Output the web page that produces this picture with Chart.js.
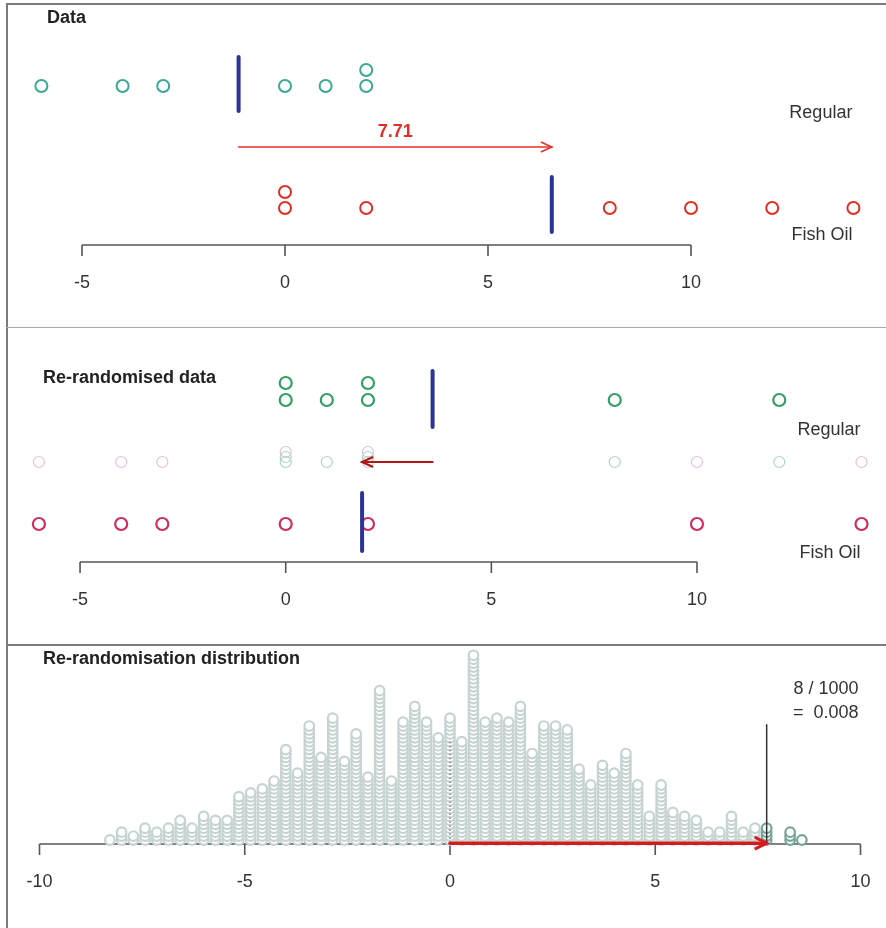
<!DOCTYPE html>
<html>
<head>
<meta charset="utf-8">
<script src="https://cdn.jsdelivr.net/npm/chart.js@4.4.1/dist/chart.umd.min.js"></script>
<style>
  body { margin: 0; background: #fff; }
  #wrap { position: relative; width: 886px; height: 928px; overflow: hidden; background: #fff; }
  canvas { position: absolute; left: 0; }
  .rule { position: absolute; background: #7c7c7c; }
</style>
</head>
<body>
<div id="wrap">
  <canvas id="c1" width="886" height="328" style="top:0px"></canvas>
  <canvas id="c2" width="886" height="316" style="top:329px"></canvas>
  <canvas id="c3" width="886" height="283" style="top:645px"></canvas>
  <div class="rule" style="left:6px;top:3px;width:2px;height:925px"></div>
  <div class="rule" style="left:6px;top:3px;width:880px;height:2px"></div>
  <div class="rule" style="left:6px;top:327px;width:880px;height:1px;background:#a8a8a8"></div>
  <div class="rule" style="left:6px;top:644px;width:880px;height:2px"></div>
</div>
<script>
// original data (omega-3 example)
const regularVals = [-6, -4, -3, 0, 1, 2, 2];
const fishOilVals = [0, 0, 2, 8, 10, 12, 14];

// one re-randomisation of the pooled values
const rerandRegular = [0, 0, 1, 2, 2, 8, 12];
const rerandFish = [-6, -4, -3, 0, 2, 10, 14];

// re-randomisation distribution: difference = numerator / 7, count of 1000
const diffNumerators = [-58, -56, -54, -52, -50, -48, -46, -44, -42, -40,
  -38, -36, -34, -32, -30, -28, -26, -24, -22, -20,
  -18, -16, -14, -12, -10, -8, -6, -4, -2, 0,
  2, 4, 6, 8, 10, 12, 14, 16, 18, 20,
  22, 24, 26, 28, 30, 32, 34, 36, 38, 40,
  42, 44, 46, 48, 50, 52, 54, 56, 58, 60];
const diffCounts = [1, 3, 2, 4, 3, 4, 6, 4, 7, 6,
  6, 12, 13, 14, 16, 24, 18, 30, 22, 32,
  21, 28, 17, 39, 16, 31, 35, 31, 27, 32,
  26, 48, 31, 32, 31, 35, 23, 30, 30, 29,
  19, 15, 20, 18, 23, 15, 7, 15, 8, 7,
  6, 3, 3, 7, 3, 4, 4, 0, 3, 1];

const ticksData = [-5, 0, 5, 10];
const ticksDist = [-10, -5, 0, 5, 10];

const FONT = '"Liberation Sans", Arial, sans-serif';
const NAVY = 'rgb(42,52,150)';

const mean = a => a.reduce((s, v) => s + v, 0) / a.length;

// repeated values are stacked upward
function stackRow(vals, level, step, seen) {
  seen = seen || {};
  return vals.map(v => {
    const k = seen[v] || 0;
    seen[v] = k + 1;
    return { x: v, y: level + k * step };
  });
}

function xLimits(v0, p0, pxPerUnit, width) {
  const min = v0 - p0 / pxPerUnit;
  return { min: min, max: min + width / pxPerUnit };
}
function yLimits(v0, p0, pxPerUnit, height) {
  const max = v0 + p0 / pxPerUnit;
  return { min: max - height / pxPerUnit, max: max };
}

function baseOptions(xl, yl) {
  return {
    responsive: false,
    animation: false,
    events: [],
    layout: { padding: 0, autoPadding: false },
    plugins: { legend: { display: false }, tooltip: { enabled: false } },
    scales: {
      x: { type: 'linear', display: false, min: xl.min, max: xl.max },
      y: { type: 'linear', display: false, min: yl.min, max: yl.max }
    }
  };
}

function pointSet(data, color, r, bw, fill, order) {
  return {
    data: data, showLine: false, order: order,
    pointStyle: 'circle', pointRadius: r, pointHoverRadius: r,
    pointBorderWidth: bw, borderColor: color, pointBorderColor: color,
    pointBackgroundColor: fill, backgroundColor: fill
  };
}

function segment(x0, y0, x1, y1, color, w, order, dash) {
  return {
    data: [{ x: x0, y: y0 }, { x: x1, y: y1 }], showLine: true, order: order,
    borderColor: color, borderWidth: w, pointRadius: 0, fill: false,
    borderCapStyle: dash ? 'butt' : 'round', borderDash: dash || []
  };
}

function arrowHead(ctx, xFrom, xTo, y, color, w, len, half) {
  const d = Math.sign(xTo - xFrom);
  ctx.save();
  ctx.strokeStyle = color;
  ctx.lineWidth = w;
  ctx.lineJoin = 'miter';
  ctx.beginPath();
  ctx.moveTo(xTo - d * len, y - half);
  ctx.lineTo(xTo, y);
  ctx.lineTo(xTo - d * len, y + half);
  ctx.stroke();
  ctx.restore();
}

function drawAxis(ctx, sx, y, ticks) {
  ctx.save();
  ctx.strokeStyle = '#555';
  ctx.lineWidth = 1.6;
  ctx.beginPath();
  ctx.moveTo(sx.getPixelForValue(ticks[0]), y);
  ctx.lineTo(sx.getPixelForValue(ticks[ticks.length - 1]), y);
  ticks.forEach(t => {
    const x = sx.getPixelForValue(t);
    ctx.moveTo(x, y);
    ctx.lineTo(x, y + 11);
  });
  ctx.stroke();
  ctx.fillStyle = '#333';
  ctx.font = '18px ' + FONT;
  ctx.textAlign = 'center';
  ctx.textBaseline = 'alphabetic';
  ticks.forEach(t => ctx.fillText(String(t), sx.getPixelForValue(t), y + 43));
  ctx.restore();
}

function text(ctx, str, x, y, align, font, color) {
  ctx.save();
  ctx.font = font;
  ctx.fillStyle = color;
  ctx.textAlign = align;
  ctx.textBaseline = 'alphabetic';
  ctx.fillText(str, x, y);
  ctx.restore();
}

// ---------- panel 1: Data ----------
const k1 = 122;
const mReg = mean(regularVals), mFish = mean(fishOilVals);
const obsDiff = mFish - mReg;
const opt1 = baseOptions(xLimits(0, 285, 40.6, 886), yLimits(2, 86, k1, 328));
new Chart(document.getElementById('c1'), {
  type: 'scatter',
  data: {
    datasets: [
      pointSet(stackRow(regularVals, 2, 16 / k1), 'rgb(58,168,152)', 6, 2, 'rgba(0,0,0,0)', 3),
      pointSet(stackRow(fishOilVals, 1, 16 / k1), 'rgb(226,46,36)', 6, 2, 'rgba(0,0,0,0)', 3),
      segment(mReg, 2 - 25 / k1, mReg, 2 + 29 / k1, NAVY, 4, 1),
      segment(mFish, 1 - 24 / k1, mFish, 1 + 31 / k1, NAVY, 4, 1),
      segment(mReg, 1.5, mFish, 1.5, 'rgb(230,50,38)', 1.6, 2)
    ]
  },
  options: opt1,
  plugins: [{
    id: 'overlay',
    afterDatasetsDraw(chart) {
      const ctx = chart.ctx, sx = chart.scales.x, sy = chart.scales.y;
      const ya = sy.getPixelForValue(1.5);
      arrowHead(ctx, sx.getPixelForValue(mReg), sx.getPixelForValue(mFish), ya, 'rgb(230,50,38)', 1.6, 11, 5);
      text(ctx, obsDiff.toFixed(2), sx.getPixelForValue((mReg + mFish) / 2), ya - 10,
        'center', 'bold 18px ' + FONT, 'rgb(226,46,36)');
      text(ctx, 'Regular', sx.getPixelForValue(14) - 1, sy.getPixelForValue(2) + 32, 'right', '18px ' + FONT, '#333');
      text(ctx, 'Fish Oil', sx.getPixelForValue(14) - 1, sy.getPixelForValue(1) + 32, 'right', '18px ' + FONT, '#333');
      text(ctx, 'Data', 47, 23, 'left', 'bold 18px ' + FONT, '#222');
      drawAxis(ctx, sx, sy.getPixelForValue(1) + 37, ticksData);
    }
  }]
});

// ---------- panel 2: Re-randomised data ----------
const k2 = 124;
const mReg2 = mean(rerandRegular), mFish2 = mean(rerandFish);
const pooledSeen = {};
const midReg = stackRow(rerandRegular, 1.5, 5 / k2, pooledSeen);
const midFish = stackRow(rerandFish, 1.5, 5 / k2, pooledSeen);
const opt2 = baseOptions(xLimits(0, 285.7, 41.13, 886), yLimits(2, 71, k2, 316));
new Chart(document.getElementById('c2'), {
  type: 'scatter',
  data: {
    datasets: [
      pointSet(stackRow(rerandRegular, 2, 17 / k2), 'rgb(48,160,98)', 6, 2.2, 'rgba(0,0,0,0)', 3),
      pointSet(stackRow(rerandFish, 1, 17 / k2), 'rgb(206,44,96)', 6, 2.2, 'rgba(0,0,0,0)', 3),
      pointSet(midReg, 'rgb(170,216,194)', 5.5, 1.2, 'rgba(0,0,0,0)', 4),
      pointSet(midFish, 'rgb(232,188,222)', 5.5, 1.2, 'rgba(0,0,0,0)', 4),
      segment(mReg2, 2 - 27 / k2, mReg2, 2 + 29 / k2, NAVY, 4, 1),
      segment(mFish2, 1 - 27 / k2, mFish2, 1 + 31 / k2, NAVY, 4, 1),
      segment(mReg2, 1.5, mFish2, 1.5, 'rgb(178,22,22)', 2.2, 2)
    ]
  },
  options: opt2,
  plugins: [{
    id: 'overlay',
    afterDatasetsDraw(chart) {
      const ctx = chart.ctx, sx = chart.scales.x, sy = chart.scales.y;
      arrowHead(ctx, sx.getPixelForValue(mReg2), sx.getPixelForValue(mFish2), sy.getPixelForValue(1.5),
        'rgb(178,22,22)', 2.2, 11, 5);
      text(ctx, 'Regular', sx.getPixelForValue(14) - 1, sy.getPixelForValue(2) + 35, 'right', '18px ' + FONT, '#333');
      text(ctx, 'Fish Oil', sx.getPixelForValue(14) - 1, sy.getPixelForValue(1) + 34, 'right', '18px ' + FONT, '#333');
      text(ctx, 'Re-randomised data', 43, 54, 'left', 'bold 18px ' + FONT, '#222');
      drawAxis(ctx, sx, sy.getPixelForValue(1) + 38, ticksData);
    }
  }]
});

// ---------- panel 3: Re-randomisation distribution ----------
const k3 = 3.93;
const diffValues = diffNumerators.map(n => n / 7);
const dots = [];
diffValues.forEach((v, i) => {
  for (let j = 0; j < diffCounts[i]; j++) dots.push({ x: v, y: j });
});
const total = diffCounts.reduce((s, c) => s + c, 0);
const tail = diffCounts.reduce((s, c, i) => s + (diffValues[i] >= obsDiff - 1e-9 ? c : 0), 0);
const opt3 = baseOptions(xLimits(0, 450, 41.05, 886), yLimits(0, 195, k3, 283));
const dotSet = pointSet(dots, 'rgb(198,211,211)', 4.8, 2.2, '#fff', 5);
dotSet.pointBorderColor = c => (c.raw && c.raw.x >= obsDiff - 1e-9) ? 'rgb(120,165,155)' : 'rgb(198,211,211)';
new Chart(document.getElementById('c3'), {
  type: 'scatter',
  data: {
    datasets: [
      dotSet,
      segment(0, 25, 0, -0.6, '#444', 1.2, 3, [1, 3]),
      segment(obsDiff, 29.3, obsDiff, -0.8, '#333', 1.5, 2),
      segment(0, -0.8, obsDiff - 0.05, -0.8, 'rgb(212,28,28)', 3.5, 1)
    ]
  },
  options: opt3,
  plugins: [{
    id: 'overlay',
    beforeDatasetsDraw(chart) {
      const ctx = chart.ctx, sx = chart.scales.x, sy = chart.scales.y;
      drawAxis(ctx, sx, sy.getPixelForValue(0) + 4, ticksDist);
    },
    afterDatasetsDraw(chart) {
      const ctx = chart.ctx, sx = chart.scales.x, sy = chart.scales.y;
      arrowHead(ctx, sx.getPixelForValue(0), sx.getPixelForValue(obsDiff), sy.getPixelForValue(-0.8),
        'rgb(212,28,28)', 3, 12, 6);
      const xr = sx.getPixelForValue(10) - 2;
      text(ctx, tail + ' / ' + total, xr, 49, 'right', '18px ' + FONT, '#333');
      text(ctx, '=  ' + (tail / total).toFixed(3), xr, 73, 'right', '18px ' + FONT, '#333');
      text(ctx, 'Re-randomisation distribution', 43, 19, 'left', 'bold 18px ' + FONT, '#222');
    }
  }]
});
</script>
</body>
</html>
